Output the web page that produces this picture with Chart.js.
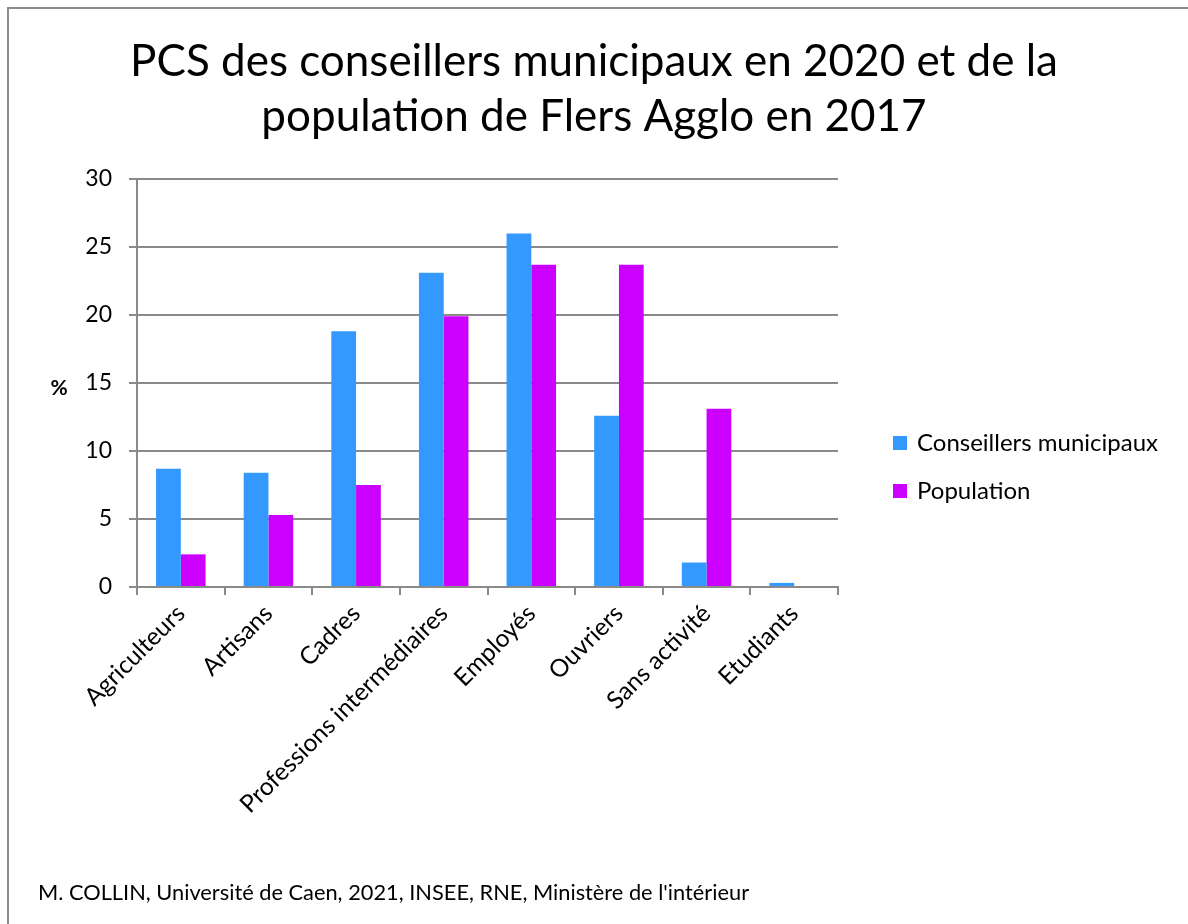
<!DOCTYPE html>
<html>
<head>
<meta charset="utf-8">
<script src="https://cdn.jsdelivr.net/npm/chart.js@4.4.1/dist/chart.umd.min.js"></script>
<style>
  html, body { margin: 0; padding: 0; background: #ffffff; }
  #wrap { position: relative; width: 1188px; height: 924px; overflow: hidden; }
  #frame { position: absolute; left: 7px; top: 7px; width: 1300px; height: 1000px;
           border-left: 2px solid #8c8c8c; border-top: 2px solid #8c8c8c; box-sizing: border-box; }
  #c { position: absolute; left: 0; top: 0; }
</style>
</head>
<body>
<div id="wrap">
  <div id="frame"></div>
  <canvas id="c" width="1188" height="924"></canvas>
</div>
<script>
const titleLines = ["PCS des conseillers municipaux en 2020 et de la", "population de Flers Agglo en 2017"];
const categories = ["Agriculteurs", "Artisans", "Cadres", "Professions intermédiaires", "Employés", "Ouvriers", "Sans activité", "Etudiants"];
const conseillers = [8.7, 8.4, 18.8, 23.1, 26.0, 12.6, 1.8, 0.3];
const population = [2.4, 5.3, 7.5, 19.9, 23.7, 23.7, 13.1, 0];
const seriesNames = ["Conseillers municipaux", "Population"];
const seriesColors = ["#3399FF", "#CC00FF"];
const yTicks = [0, 5, 10, 15, 20, 25, 30];
const yAxisLabel = "%";
const sourceText = "M. COLLIN, Université de Caen, 2021, INSEE, RNE, Ministère de l'intérieur";

const FONT = "Lato";
const GRID = "#8a8a8a";
const PLOT_RIGHT = 838;

// Legend (right side) drawn from the chart's own datasets
const sideLegend = {
  id: "sideLegend",
  afterDraw(chart) {
    const ctx = chart.ctx;
    ctx.save();
    ctx.font = "24px " + FONT;
    ctx.textAlign = "left";
    ctx.textBaseline = "middle";
    chart.data.datasets.forEach((ds, i) => {
      const cy = 443 + i * 48;
      ctx.fillStyle = ds.backgroundColor;
      ctx.fillRect(893, cy - 7, 14, 14);
      ctx.fillStyle = "#000";
      ctx.fillText(ds.label, 917, cy);
    });
    ctx.restore();
  }
};

const extraText = {
  id: "extraText",
  afterDraw(chart) {
    const ctx = chart.ctx;
    const a = chart.chartArea;
    ctx.save();
    ctx.fillStyle = "#000";
    ctx.font = "bold 21px " + FONT;
    ctx.textAlign = "center";
    ctx.textBaseline = "middle";
    ctx.fillText(yAxisLabel, 59, (a.top + a.bottom) / 2 + 5);
    ctx.font = "21.8px " + FONT;
    ctx.textAlign = "left";
    ctx.fillText(sourceText, 38, 893);
    ctx.restore();
  }
};

function build() {
  new Chart(document.getElementById("c"), {
    type: "bar",
    data: {
      labels: categories,
      datasets: [
        { label: seriesNames[0], data: conseillers, backgroundColor: seriesColors[0], borderWidth: 0, yAxisID: "y" },
        { label: seriesNames[1], data: population, backgroundColor: seriesColors[1], borderWidth: 0, yAxisID: "y" }
      ]
    },
    options: {
      responsive: false,
      devicePixelRatio: 1,
      animation: false,
      layout: { padding: { top: 10, left: 0, right: 0, bottom: 0 } },
      datasets: { bar: { categoryPercentage: 0.565, barPercentage: 1.0 } },
      plugins: {
        tooltip: { enabled: false },
        legend: { display: false },
        title: {
          display: true,
          text: titleLines,
          color: "#000",
          font: { family: FONT, size: 44, weight: "normal", lineHeight: 1.25 },
          padding: { top: 24, bottom: 35 }
        }
      },
      scales: {
        x: {
          type: "category",
          afterFit: (s) => { s.height = 337; },
          grid: { display: true, drawOnChartArea: false, drawTicks: true, tickLength: 8, color: GRID, lineWidth: 2, offset: true },
          border: { display: true, color: GRID, width: 2 },
          ticks: { color: "#000", font: { family: FONT, size: 24.5 }, minRotation: 45, maxRotation: 45, padding: 4, autoSkip: false }
        },
        y: {
          type: "linear",
          position: "left",
          min: 0,
          max: 30,
          afterFit: (s) => { s.width = 137; },
          afterBuildTicks: (s) => { s.ticks = yTicks.map(v => ({ value: v })); },
          grid: { color: GRID, lineWidth: 2, tickLength: 8, drawTicks: true },
          border: { display: true, color: GRID, width: 2 },
          ticks: { color: "#000", font: { family: FONT, size: 23 }, padding: 17 }
        },
        legendSpace: {
          type: "linear", position: "right", display: true,
          grid: { display: false }, border: { display: false }, ticks: { display: false },
          afterFit: (s) => { s.width = s.chart.width - PLOT_RIGHT; }
        }
      }
    },
    plugins: [extraText, sideLegend]
  });
}

if (document.fonts && document.fonts.load) {
  Promise.all([document.fonts.load("44px Lato"), document.fonts.load("bold 21px Lato")]).then(build, build);
} else {
  build();
}
</script>
</body>
</html>
